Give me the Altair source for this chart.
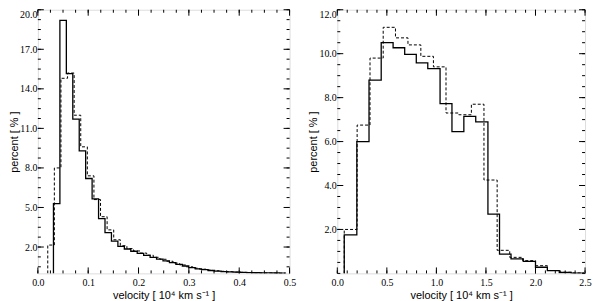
import altair as alt
import pandas as pd

# ---------------- data ----------------
# Left panel: velocity in 10^4 km/s, percent
L_SOLID_EDGES = [0.0310, 0.0438, 0.0566, 0.0694, 0.0822, 0.0950, 0.1078, 0.1206, 0.1334, 0.1462,
                 0.1590, 0.1718, 0.1846, 0.1974, 0.2102, 0.2230, 0.2358, 0.2486, 0.2614, 0.2742,
                 0.2870, 0.2998, 0.3126, 0.3254, 0.3382, 0.3510, 0.3638, 0.3766, 0.3894, 0.4022,
                 0.4150, 0.4278, 0.4406, 0.4534, 0.4662, 0.4790, 0.4918]
L_SOLID_VALS = [5.3, 19.2, 15.15, 11.7, 9.3, 7.2, 5.65, 4.15, 3.1, 2.45,
                2.05, 1.85, 1.68, 1.52, 1.37, 1.22, 1.08, 0.95, 0.82, 0.69,
                0.56, 0.44, 0.35, 0.28, 0.22, 0.17, 0.14, 0.11, 0.09, 0.07,
                0.06, 0.05, 0.04, 0.035, 0.03, 0.025]
L_DASH_EDGES = [0.0197, 0.0328, 0.0459, 0.0590, 0.0721, 0.0852, 0.0983, 0.1114, 0.1245, 0.1376,
                0.1507, 0.1638, 0.1769, 0.1900, 0.2031, 0.2162, 0.2293, 0.2424, 0.2555, 0.2686,
                0.2817, 0.2948, 0.3079, 0.3210, 0.3341, 0.3472, 0.3603, 0.3734, 0.3865, 0.3996,
                0.4127, 0.4258, 0.4389, 0.4520, 0.4651, 0.4782, 0.4913]
L_DASH_VALS = [2.15, 8.0, 14.8, 15.2, 12.0, 9.6, 7.4, 5.6, 4.3, 3.3,
               2.55, 2.1, 1.88, 1.7, 1.54, 1.38, 1.22, 1.07, 0.92, 0.78,
               0.64, 0.5, 0.4, 0.32, 0.25, 0.2, 0.16, 0.13, 0.1, 0.08,
               0.065, 0.05, 0.04, 0.035, 0.03, 0.025]

# Right panel
R_SOLID_EDGES = [0.07, 0.197, 0.32, 0.443, 0.563, 0.68, 0.797, 0.913, 1.037, 1.157,
                 1.277, 1.397, 1.52, 1.637, 1.753, 1.877, 2.0, 2.12, 2.24, 2.36, 2.48]
R_SOLID_VALS = [1.75, 6.0, 8.8, 10.5, 10.27, 9.97, 9.58, 9.32, 7.73, 6.45,
                7.15, 6.9, 2.7, 0.88, 0.66, 0.55, 0.28, 0.13, 0.04, 0.01]
R_DASH_EDGES = [0.07, 0.2, 0.33, 0.463, 0.587, 0.713, 0.843, 0.97, 1.097, 1.225,
                1.353, 1.48, 1.613, 1.74, 1.87, 2.0, 2.12, 2.25, 2.37, 2.49]
R_DASH_VALS = [2.0, 6.75, 9.8, 11.2, 10.72, 10.4, 9.88, 9.4, 7.3, 7.22,
               7.7, 4.25, 1.05, 0.73, 0.58, 0.35, 0.13, 0.05, 0.02]

# Axis ticks
L_X_TICKS = [0.0, 0.1, 0.2, 0.3, 0.4, 0.5]
L_Y_TICKS = [2, 5, 8, 11, 14, 17, 20]
R_X_TICKS = [0.0, 0.5, 1.0, 1.5, 2.0, 2.5]
R_Y_TICKS = [2, 4, 6, 8, 10, 12]

X_TITLE = "velocity [ 10\u2074 km s\u207b\u00b9 ]"
Y_TITLE = "percent [ % ]"


def minor(lo, hi, step):
    n = int(round((hi - lo) / step))
    return [round(lo + step * k, 4) for k in range(n + 1)]


def step_frame(edges, vals):
    xs = [edges[0]] + list(edges[:-1]) + [edges[-1], edges[-1]]
    ys = [0.0] + list(vals) + [vals[-1], 0.0]
    return pd.DataFrame({"x": xs, "y": ys, "i": range(len(xs))})


def panel(se, sv, de, dv, xdom, xt, xm, ydom, yt, ym, W, H):
    xsc = alt.Scale(domain=xdom, nice=False, zero=False)
    ysc = alt.Scale(domain=ydom, nice=False, zero=False)
    xaxis = alt.Axis(values=xt, format=".1f", title=X_TITLE, ticks=False, domain=False,
                     grid=False, labelFlush=False, labelFont="Liberation Serif",
                     labelFontSize=10, labelColor="black", labelPadding=4,
                     titleFont="Liberation Sans", titleFontSize=11,
                     titleFontWeight="normal", titleColor="black", titlePadding=2)
    yaxis = alt.Axis(values=yt, format=".1f", title=Y_TITLE, ticks=False, domain=False,
                     grid=False, labelFlush=True, labelFont="Liberation Serif",
                     labelFontSize=10, labelColor="black", labelPadding=1,
                     titleFont="Liberation Sans", titleFontSize=11,
                     titleFontWeight="normal", titleColor="black", titlePadding=0)
    X = alt.X("x:Q", scale=xsc, axis=xaxis)
    Y = alt.Y("y:Q", scale=ysc, axis=yaxis)

    solid = alt.Chart(step_frame(se, sv)).mark_line(
        interpolate="step-after", color="black", strokeWidth=1.3, clip=True
    ).encode(x=X, y=Y, order="i:Q")
    dashed = alt.Chart(step_frame(de, dv)).mark_line(
        interpolate="step-after", color="black", strokeWidth=1.0, strokeDash=[3, 2], clip=True
    ).encode(x=X, y=Y, order="i:Q")

    def xticks(vals, length):
        base = alt.Chart(pd.DataFrame({"x": vals})).mark_rule(color="black", strokeWidth=1)
        bot = base.encode(x=X, y=alt.value(H), y2=alt.value(H - length))
        top = base.encode(x=X, y=alt.value(0), y2=alt.value(length))
        return [bot, top]

    def yticks(vals, length):
        base = alt.Chart(pd.DataFrame({"y": vals})).mark_rule(color="black", strokeWidth=1)
        lef = base.encode(y=Y, x=alt.value(0), x2=alt.value(length))
        rig = base.encode(y=Y, x=alt.value(W), x2=alt.value(W - length))
        return [lef, rig]

    layers = [solid, dashed] + xticks(xt, 6) + xticks(xm, 3) + yticks(yt, 6) + yticks(ym, 3)
    return alt.layer(*layers).properties(width=W, height=H)


H = 265
left = panel(L_SOLID_EDGES, L_SOLID_VALS, L_DASH_EDGES, L_DASH_VALS,
             [0, 0.5], L_X_TICKS, minor(0, 0.5, 0.025),
             [0, 20], L_Y_TICKS, minor(0.5, 20, 0.75), 253, H)
right = panel(R_SOLID_EDGES, R_SOLID_VALS, R_DASH_EDGES, R_DASH_VALS,
              [0, 2.5], R_X_TICKS, minor(0, 2.5, 0.1),
              [0, 12], R_Y_TICKS, minor(0, 12, 0.5), 249, H)

chart = alt.hconcat(left, right, spacing=11).properties(
    padding=0
).configure_view(stroke="black", strokeWidth=1).configure(background="white")

chart.save("out.html", embed_options={"renderer": "svg", "actions": False})
